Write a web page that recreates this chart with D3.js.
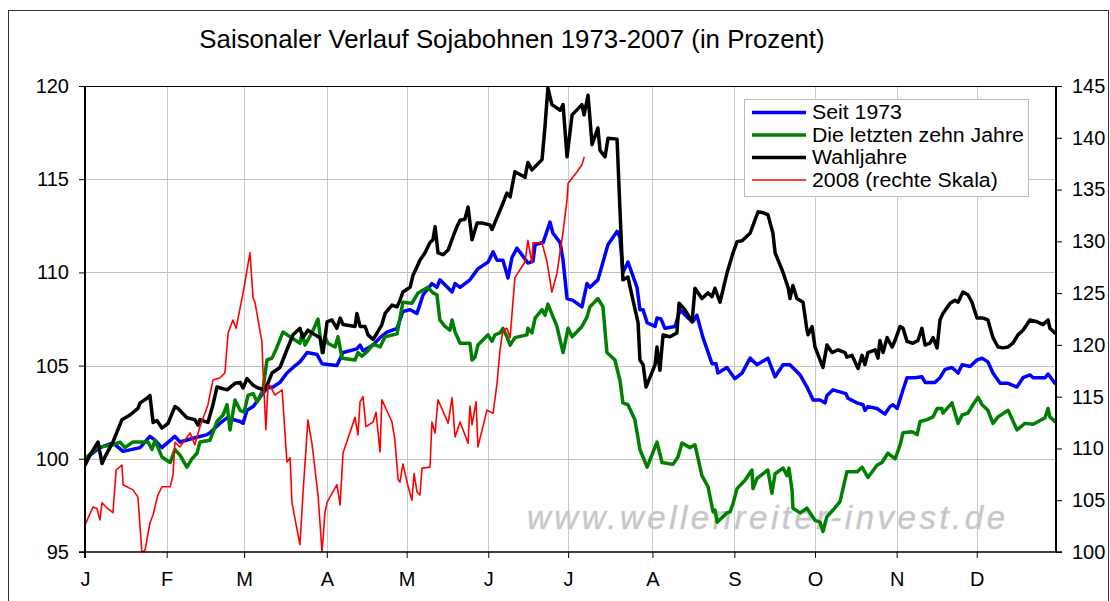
<!DOCTYPE html>
<html>
<head>
<meta charset="utf-8">
<script src="https://cdn.jsdelivr.net/npm/d3@7"></script>
<style>
html,body{margin:0;padding:0;background:#fff;}
svg{display:block;}
text{font-family:Arial,"Liberation Sans",sans-serif;fill:#000;}
</style>
</head>
<body>
<svg id="chart" width="1110" height="601"></svg>
<script>
// ---------- DATA ----------
const title = "Saisonaler Verlauf Sojabohnen 1973-2007 (in Prozent)";
const monthLabels = ["J","F","M","A","M","J","J","A","S","O","N","D"];
const monthStarts = [0,30.7,59.8,90.9,120.9,151.6,181.6,213.3,244.1,274.4,305.1,335.2,365];
const leftTicks = [95,100,105,110,115,120];
const rightTicks = [100,105,110,115,120,125,130,135,140,145];
const seriesNames = ["Seit 1973","Die letzten zehn Jahre","Wahljahre","2008 (rechte Skala)"];
const watermark = "www.wellenreiter-invest.de";

// [day, value]
const seit1973 = [
[0,100.0],[5.6,100.6],[10.5,100.85],[14.3,100.4],[20.7,100.6],[24.4,101.2],[26.3,101.0],[28.9,100.6],
[33.8,101.2],[35.7,100.9],[40.6,101.1],[45.9,101.3],[47,101.4],[50.7,101.9],[53.4,102.2],[58.3,102.0],
[59.4,101.9],[60.9,102.6],[63.2,102.8],[65.8,103.3],[68.4,103.8],[70.7,103.85],[73.3,104.1],[75.9,104.6],
[78.2,104.9],[80.8,105.2],[83.5,105.7],[87.2,105.6],[89.1,105.1],[94.7,105.0],[97,105.7],[102.2,105.9],
[103.4,106.1],[104.5,105.8],[108.3,106.1],[110.9,106.5],[113.5,106.8],[117.3,107.0],[119.5,107.9],[122.2,108.0],
[124.8,107.8],[127.1,108.8],[130.4,109.4],[132.3,109.2],[133.4,109.6],[138,108.95],[139.1,109.4],[141,109.2],
[144.7,109.6],[147.7,110.2],[151.5,110.55],[153.4,111.1],[154.9,110.65],[157.1,110.65],[159,109.7],[160.5,110.8],
[162.4,111.3],[166.5,110.5],[168.4,110.6],[169.2,111.5],[172.2,111.6],[174.8,112.7],[175.9,112.1],[178.6,111.6],
[179.7,110.65],[181.2,108.6],[183.4,108.5],[186.8,108.15],[188.7,109.4],[189.8,109.2],[192.8,109.6],[196.6,111.5],
[200,112.2],[201.1,111.9],[202.2,110.0],[204.1,110.55],[207.5,109.2],[208.6,108.0],[209.8,108.0],[211.3,107.3],
[214.3,107.1],[215,107.55],[216.5,107.5],[218,107.0],[221.8,107.1],[223.7,108.0],[226.7,107.55],[228.5,107.35],
[230,107.7],[232.3,106.5],[235.7,105.1],[237.2,105.1],[237.9,104.6],[241.3,104.9],[244.3,104.3],[247,104.6],
[250,105.4],[252.6,105.05],[256.7,105.4],[259.4,104.4],[262.4,105.05],[265,105.05],[268.8,104.5],[271.4,103.85],
[273.7,103.15],[276.3,103.15],[278.2,103.0],[278.9,103.4],[281.2,103.7],[286,103.5],[286.8,103.25],[290.2,103.0],
[292.5,102.9],[293.2,102.6],[294.3,102.8],[297.7,102.7],[300.7,102.4],[302.6,102.8],[303.7,102.9],[305.3,102.7],
[307.5,103.7],[309,104.35],[312,104.35],[314.6,104.4],[315.8,104.1],[319.5,104.1],[321.4,104.35],[323.3,104.8],
[325.9,104.9],[328.2,104.6],[329.7,105.05],[332.7,104.95],[335.3,105.3],[337.2,105.4],[339.4,105.2],[341.3,104.6],
[344,104.05],[347,104.05],[350.3,103.85],[352.6,104.35],[355.2,104.5],[356.4,104.35],[360.9,104.35],[362,104.55],
[364.6,104.05]
];

const letzteZehn = [
[0,100.0],[4.5,100.6],[10.5,100.75],[13.2,100.9],[15,100.6],[18,100.9],[23.7,100.9],[25.2,100.5],
[26.3,101.0],[28.9,100.1],[32,99.8],[33.8,100.5],[35.7,100.2],[38.3,99.55],[40.2,100.0],[42.1,100.3],
[43.2,100.9],[47,101.0],[49.6,102.0],[51.9,102.35],[53.4,102.9],[54.5,101.55],[56.4,103.15],[58.3,102.6],
[59.8,102.5],[61.3,103.4],[63.2,103.5],[64.7,103.05],[66.9,103.7],[68.4,105.3],[70.3,105.4],[72.2,106.0],
[74.4,106.8],[77.1,106.55],[80.8,106.2],[81.6,106.75],[82.7,106.1],[85.3,106.75],[87.6,107.5],[89.1,105.7],
[90.2,106.55],[91.3,106.2],[94,106.0],[95.1,106.55],[96.6,105.4],[101.5,105.3],[102.6,105.7],[104.1,105.5],
[106.4,105.8],[108.3,106.15],[110.9,106.0],[112.8,106.55],[117.3,106.7],[119.5,108.4],[122.9,108.35],[125.2,108.9],
[128.9,109.2],[130.8,108.9],[132.3,108.8],[133.4,107.45],[135.3,107.1],[137.2,106.9],[138,107.45],[139.1,106.8],
[141,106.2],[144.7,106.2],[145.5,105.3],[146.6,105.45],[147.7,106.1],[151.5,106.65],[153,106.3],[154.1,106.65],
[156,106.75],[157.1,107.0],[158.6,106.55],[159.8,106.1],[161.6,106.5],[166.1,106.65],[166.5,107.0],[168,106.75],
[169.2,107.55],[171.8,108.0],[172.9,107.7],[174,108.3],[177.4,107.1],[179.7,105.7],[181.6,107.0],[183.1,106.55],
[186.8,107.1],[188.7,107.6],[189.8,108.15],[192.8,108.6],[194.7,108.15],[196.2,105.7],[199.2,105.3],[201.1,104.2],
[202.2,103.0],[204.1,102.9],[206.7,102.1],[208.6,100.5],[211.3,99.55],[215,100.9],[216.9,99.8],[221,99.7],
[222.9,100.1],[224.4,100.85],[227.4,100.6],[229.3,100.75],[230,100.3],[231.9,99.1],[234.2,98.5],[236.1,97.15],
[236.8,97.25],[237.6,96.6],[241.3,97.1],[242.5,97.15],[243.6,97.6],[245.1,98.4],[248.1,98.85],[250.7,99.4],
[251.1,98.4],[252.6,98.95],[256.7,99.4],[258.2,98.15],[259.4,99.2],[262.4,99.5],[263.9,99.1],[264.6,99.5],
[265.8,98.3],[266.1,97.35],[268.8,97.1],[271.4,97.35],[274.4,96.7],[276.3,96.6],[277.4,96.1],[278.9,96.9],
[281.2,97.25],[283.8,97.7],[286.4,99.3],[290.2,99.3],[292.1,99.55],[294.3,99.0],[297.7,99.65],[299.6,99.8],
[301.8,100.3],[304.5,100.0],[306.4,100.75],[307.5,101.4],[310.9,101.45],[312.8,101.3],[313.9,102.0],[316.5,102.1],
[318.8,102.25],[320.3,102.7],[322.1,102.7],[322.5,102.45],[325.9,103.0],[328.2,101.9],[329.7,102.35],[331.9,102.45],
[333.8,102.9],[335.7,103.3],[337.2,102.9],[339.4,102.6],[341.3,101.9],[343.2,102.25],[347,102.6],[350.3,101.55],
[353.3,101.9],[356.4,101.85],[360.9,102.2],[362,102.7],[362.7,102.25],[364.6,102.0]
];

const wahljahre = [
[0,99.65],[1.9,100.2],[4.9,100.9],[6.4,99.75],[7.5,100.1],[10.5,100.9],[13.9,102.1],[16.9,102.35],
[19.9,102.7],[20.7,103.0],[23.3,103.25],[24.4,103.4],[25.6,101.95],[27.1,102.05],[28.9,101.65],[31.2,101.9],
[33.8,102.8],[35,102.7],[38.3,102.2],[41.3,102.1],[42.5,101.8],[43.2,102.1],[46.2,101.95],[48.1,102.9],
[49.6,103.85],[53.4,103.7],[56.4,104.05],[58.3,104.1],[59.4,103.8],[60.9,104.3],[63.2,103.95],[65,103.8],
[67.7,103.7],[70.3,104.6],[73.3,104.9],[75.9,105.85],[78.2,106.65],[80.8,107.0],[81.9,106.5],[83.8,106.9],
[86.5,106.65],[88.3,106.5],[89.5,105.7],[91,107.35],[92.8,107.45],[94.7,107.0],[95.9,107.55],[97,107.2],
[101.5,107.1],[102.2,107.8],[103.4,107.1],[105.3,107.1],[106.4,106.65],[108.3,106.4],[109.8,106.75],[111.6,107.2],
[112.8,107.8],[115.4,108.25],[117.3,108.15],[118.4,108.5],[119.5,108.95],[122.2,109.2],[123.3,109.85],[124.8,110.3],
[125.9,110.65],[127.8,111.05],[129.7,111.6],[130.8,111.75],[131.6,112.45],[132.7,111.05],[134.6,110.95],[136.5,111.2],
[138.3,111.9],[139.8,112.45],[141,112.8],[142.8,112.85],[144,113.5],[145.5,111.75],[147.4,112.65],[149.2,112.65],
[152.2,112.55],[153,112.3],[154.9,112.95],[156.8,113.6],[158.6,114.25],[159.8,114.05],[161.6,115.4],[165.4,115.1],
[166.5,115.9],[168,115.5],[171.8,116.05],[172.9,117.8],[174,119.9],[175.5,119.0],[178.6,118.7],[179.7,119.0],
[181.2,116.2],[183.1,118.45],[186.8,119.0],[187.6,118.45],[189.1,119.5],[190.6,116.85],[192.8,117.75],[193.6,116.55],
[195.5,116.2],[196.6,117.2],[200,117.15],[201.1,113.35],[202.2,109.6],[204.1,109.75],[206,108.5],[207.9,107.3],
[208.6,105.3],[209.8,105.05],[210.9,103.85],[214.3,105.05],[215,106.0],[216.1,104.75],[217.3,106.65],[219.9,106.55],
[222.5,106.75],[223.3,108.35],[225.5,108.0],[228.2,107.35],[229.3,109.15],[231.9,108.6],[234.2,108.9],[235.7,108.7],
[236.8,109.15],[238.7,108.4],[241.3,109.95],[243.6,111.05],[245.1,111.65],[247,111.7],[250,112.1],[253,113.25],
[254.9,113.2],[256.7,113.1],[258.6,112.1],[259.4,111.05],[262,110.15],[264.3,109.2],[265,108.6],[266.1,109.3],
[267.6,108.6],[269.9,108.4],[271.4,106.9],[271.8,106.65],[273.3,107.1],[274.4,106.0],[277.4,104.9],[278.9,106.1],
[280.8,105.7],[283.1,105.85],[285.7,105.7],[286.4,105.45],[288.3,105.55],[290.6,104.85],[292.1,105.55],[293.2,105.05],
[294.3,105.7],[297,105.85],[298.1,105.4],[298.8,106.35],[300,105.7],[301.5,106.5],[303.4,106.0],[304.5,106.35],
[306.4,107.1],[307.5,107.0],[309,106.3],[311.2,106.2],[313.1,106.35],[314.6,107.0],[315.8,106.1],[317.6,106.2],
[318.8,106.5],[320.3,105.95],[321.4,107.45],[322.5,107.8],[325.2,108.35],[327,108.5],[328.2,108.4],[330,108.95],
[331.9,108.8],[333.4,108.4],[335.3,107.55],[337.6,107.55],[339.4,107.45],[341.3,106.5],[343.2,106.0],[345.1,105.95],
[347,106.0],[348.8,106.2],[350.7,106.65],[352.6,106.9],[355.2,107.45],[357.9,107.35],[360.1,107.2],[362,107.45],
[362.7,107.0],[364.6,106.75]
];

// right scale
const jahr2008 = [
[0,102.6],[3,104.35],[4.5,104.2],[5.6,103.1],[6.4,104.75],[8.3,104.25],[10.5,103.8],[11.7,107.9],
[13.9,108.4],[14.3,106.5],[18,106.0],[19.9,105.3],[21.4,99.9],[22.6,100.2],[24.4,102.8],[25.6,103.6],
[27.4,105.5],[28.9,106.3],[32,106.3],[33.1,107.45],[33.8,110.6],[35.7,110.15],[39.5,111.5],[41.3,110.35],
[43.2,112.1],[46.2,114.2],[48.1,116.6],[50.7,116.8],[52.6,117.3],[53.8,121.15],[55.6,122.4],[56.8,121.6],
[59.4,125.0],[60.9,127.2],[62,128.9],[63.2,124.5],[63.9,124.1],[66.5,120.3],[66.9,117.6],[68,111.8],
[68.8,116.1],[69.5,116.1],[71.4,115.15],[74.1,115.65],[75.9,108.7],[77.1,109.1],[77.8,104.75],[80.8,100.7],
[81.9,105.5],[83.8,112.75],[85.3,110.5],[87.6,105.5],[89.1,100.0],[90.2,103.8],[91,104.8],[94.7,106.5],
[95.9,104.55],[97,109.55],[101.5,113.0],[102.6,111.3],[103.4,114.5],[104.5,115.0],[105.6,112.1],[108.3,112.55],
[109.4,113.5],[110.9,109.65],[111.6,114.7],[115.4,112.55],[116.5,110.8],[117.7,107.0],[118.4,106.75],[119.5,108.5],
[121.4,106.4],[122.9,105.0],[123.7,107.6],[124.8,105.8],[125.9,105.5],[126.7,108.1],[129.7,108.2],[130.4,112.55],
[131.6,111.5],[132.7,114.7],[136.5,112.45],[138,114.9],[139.1,111.1],[141,112.55],[144,110.5],[144.7,114.1],
[145.5,112.3],[147,114.5],[147.7,110.15],[151.1,113.7],[153.4,113.4],[154.9,116.3],[156,119.5],[157.1,121.4],
[158.6,121.6],[159.8,120.7],[161.6,126.5],[165.4,128.0],[166.5,130.1],[168,127.9],[168.4,129.85],[171.8,129.85],
[173.7,128.0],[175.5,125.1],[177.4,126.9],[179.7,130.9],[181.2,134.0],[181.6,135.6],[183.1,136.1],[184.9,136.7],
[186.8,137.4],[187.6,138.1]
];

// ---------- CHART ----------
const svg = d3.select("#chart");
const M = {left:85, right:1056, top:86, bottom:552};

const x = d3.scaleLinear().domain([0,365]).range([M.left, M.right]);
const yL = d3.scaleLinear().domain([95,120]).range([M.bottom, M.top]);
const yR = d3.scaleLinear().domain([100,145]).range([M.bottom, M.top]);

// outer frame
svg.append("rect").attr("x",8.5).attr("y",10.5).attr("width",1100).attr("height",620)
  .attr("fill","none").attr("stroke","#333").attr("stroke-width",1);

// title
svg.append("text").attr("x",512).attr("y",48).attr("text-anchor","middle")
  .style("font-size","25.8px").text(title);

// clip
svg.append("clipPath").attr("id","plotclip").append("rect")
  .attr("x",M.left).attr("y",M.top).attr("width",M.right-M.left).attr("height",M.bottom-M.top);

// gridlines
const grid = svg.append("g");
grid.selectAll("line.h").data(leftTicks.filter(d=>d>95 && d<120)).join("line")
  .attr("x1",M.left).attr("x2",M.right)
  .attr("y1",d=>Math.round(yL(d))+0.5).attr("y2",d=>Math.round(yL(d))+0.5)
  .attr("stroke","#c0c0c0").attr("stroke-width",1);
grid.selectAll("line.v").data(monthStarts.slice(1,-1)).join("line")
  .attr("y1",M.top).attr("y2",M.bottom)
  .attr("x1",d=>Math.round(x(d))+0.5).attr("x2",d=>Math.round(x(d))+0.5)
  .attr("stroke","#c8c8c8").attr("stroke-width",1);

// watermark
svg.append("text").attr("x",527).attr("y",529)
  .attr("textLength",478).attr("lengthAdjust","spacing")
  .style("font-size","33px").style("font-style","italic").style("fill","#c4c4c4")
  .style("stroke","#d4d4d4").style("stroke-width","0.6px")
  .text(watermark);

// lines
const plot = svg.append("g").attr("clip-path","url(#plotclip)");
const lineL = d3.line().x(d=>x(d[0])).y(d=>yL(d[1]));
const lineR = d3.line().x(d=>x(d[0])).y(d=>yR(d[1]));
const specs = [
  {data:seit1973, gen:lineL, color:"#0000ff", w:3.5},
  {data:letzteZehn, gen:lineL, color:"#008000", w:3.5},
  {data:wahljahre, gen:lineL, color:"#000000", w:3.5},
  {data:jahr2008, gen:lineR, color:"#ff0000", w:1.6}
];
specs.forEach(s=>{
  plot.append("path").datum(s.data).attr("d",s.gen)
    .attr("fill","none").attr("stroke",s.color).attr("stroke-width",s.w)
    .attr("stroke-linejoin","round").attr("stroke-linecap","round");
});

// top frame line
svg.append("line").attr("x1",M.left).attr("x2",M.right).attr("y1",M.top+0.5).attr("y2",M.top+0.5)
  .attr("stroke","#000").attr("stroke-width",1);

// axes
const axL = d3.axisLeft(yL).tickValues(leftTicks).tickSize(6).tickPadding(10).tickFormat(d3.format("d"));
const gL = svg.append("g").attr("transform",`translate(${M.left},0)`).call(axL);
gL.selectAll("text").style("font-size","20px").attr("font-family",null);

const axR = d3.axisRight(yR).tickValues(rightTicks).tickSize(6).tickPadding(10).tickFormat(d3.format("d"));
const gR = svg.append("g").attr("transform",`translate(${M.right},0)`).call(axR);
gR.selectAll("text").style("font-size","20px").attr("font-family",null);

const axB = d3.axisBottom(x).tickValues(monthStarts.slice(0,12)).tickSize(6).tickPadding(14)
  .tickFormat((d,i)=>monthLabels[i]);
const gB = svg.append("g").attr("transform",`translate(0,${M.bottom})`).call(axB);
gB.selectAll("text").style("font-size","20px").attr("font-family",null);
[gL,gR,gB].forEach(g=>g.selectAll(".domain").remove());
svg.append("line").attr("x1",M.left).attr("x2",M.left).attr("y1",M.top).attr("y2",M.bottom+6).attr("stroke","#000").attr("stroke-width",2);
svg.append("line").attr("x1",M.right).attr("x2",M.right).attr("y1",M.top).attr("y2",M.bottom).attr("stroke","#000").attr("stroke-width",2);
svg.append("line").attr("x1",M.left-6).attr("x2",M.right+6).attr("y1",M.bottom).attr("y2",M.bottom).attr("stroke","#000").attr("stroke-width",1.5);

// legend
const lg = svg.append("g");
lg.append("rect").attr("x",744.5).attr("y",99.5).attr("width",284).attr("height",97)
  .attr("fill","#fff").attr("stroke","#bdbdbd").attr("stroke-width",1);
const lgColors = ["#0000ff","#008000","#000000","#ff0000"];
const lgW = [3.5,3.5,3.5,1.6];
seriesNames.forEach((n,i)=>{
  const yy = 112.5 + i*22.5;
  lg.append("line").attr("x1",752).attr("x2",806).attr("y1",yy).attr("y2",yy)
    .attr("stroke",lgColors[i]).attr("stroke-width",lgW[i]);
  const t = lg.append("text").attr("x",812).attr("y",yy).attr("dy","0.36em")
    .style("font-size","19.4px").text(n);
  const w = t.node().getComputedTextLength();
  t.attr("textLength", w*21.3/19.4).attr("lengthAdjust","spacingAndGlyphs");
});
</script>
</body>
</html>
